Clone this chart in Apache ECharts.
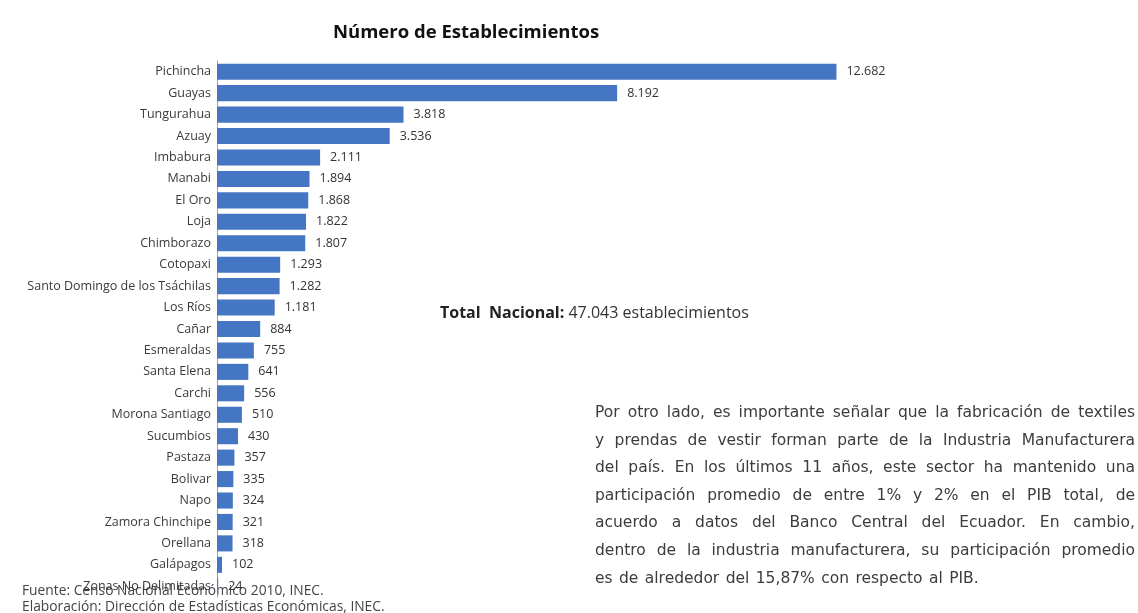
<!DOCTYPE html>
<html>
<head>
<meta charset="utf-8">
<script src="https://cdn.jsdelivr.net/npm/echarts@6/dist/echarts.min.js"></script>
<style>html,body{margin:0;padding:0;background:#fff;}#c{width:1138px;height:613px;}</style>
</head>
<body>
<div id="c"></div>
<script>
const categories = ["Pichincha","Guayas","Tungurahua","Azuay","Imbabura","Manabi","El Oro","Loja","Chimborazo","Cotopaxi","Santo Domingo de los Tsáchilas","Los Ríos","Cañar","Esmeraldas","Santa Elena","Carchi","Morona Santiago","Sucumbios","Pastaza","Bolivar","Napo","Zamora Chinchipe","Orellana","Galápagos","Zonas No Delimitadas"];
const values = [12682,8192,3818,3536,2111,1894,1868,1822,1807,1293,1282,1181,884,755,641,556,510,430,357,335,324,321,318,102,24];
const paragraph = [
  "Por otro lado, es importante señalar que la fabricación de textiles",
  "y prendas de vestir forman parte de la Industria Manufacturera",
  "del país. En los últimos 11 años, este sector ha mantenido una",
  "participación promedio de entre 1% y  2% en el PIB total, de",
  "acuerdo a datos del Banco Central del Ecuador. En cambio,",
  "dentro de la industria manufacturera, su participación promedio",
  "es de alrededor del 15,87% con respecto al PIB."
];
function fmt(v){ return String(v).replace(/\B(?=(\d{3})+(?!\d))/g, '.'); }

const PFONT = '15.5px "DejaVu Sans"';
const ctx = document.createElement('canvas').getContext('2d');
ctx.font = PFONT;
const graphics = [];
const pLeft = 595, pWidth = 540, pTop = 413, pStep = 27.6;
paragraph.forEach((line, i) => {
  const words = line.split(/ +/).filter(w => w.length);
  const widths = words.map(w => ctx.measureText(w).width);
  const total = widths.reduce((a,b)=>a+b,0);
  const last = i === paragraph.length - 1;
  const gap = last ? ctx.measureText(' ').width * 1.3 : (pWidth - total) / (words.length - 1);
  let x = pLeft;
  words.forEach((w, k) => {
    graphics.push({type:'text',x:x,y:pTop + i*pStep,style:{text:w,font:PFONT,fill:'#3c3c3c',verticalAlign:'middle',align:'left'}});
    x += widths[k] + gap;
  });
});
graphics.push({type:'text',x:440,y:313,style:{text:'{b|Total  Nacional:} 47.043 establecimientos',rich:{b:{fontWeight:'bold',fontSize:16,fontFamily:'Open Sans',fill:'#222'}},font:'16px "Open Sans"',fill:'#333',verticalAlign:'middle'}});
graphics.push({type:'text',x:22,y:591,style:{text:'Fuente: Censo Nacional Económico 2010, INEC.',font:'13.8px "Open Sans"',fill:'#444',verticalAlign:'middle'}});
graphics.push({type:'text',x:22,y:607,style:{text:'Elaboración: Dirección de Estadísticas Económicas, INEC.',font:'13.8px "Open Sans"',fill:'#444',verticalAlign:'middle'}});

const chart = echarts.init(document.getElementById('c'));
chart.setOption({
  animation:false,
  title:{text:'Número de Establecimientos',left:328,top:18,textStyle:{fontFamily:'Open Sans',fontWeight:'bold',fontSize:18.5,color:'#111'}},
  grid:{left:217,right:286,top:61,bottom:16},
  xAxis:{type:'value',min:0,max:13000,show:false},
  yAxis:{type:'category',data:categories,inverse:true,
    axisLine:{show:true,lineStyle:{color:'#a0a0a0'}},axisTick:{show:false},
    axisLabel:{margin:6,fontFamily:'Open Sans',fontSize:12.5,color:'#3a3a3a'}},
  series:[{type:'bar',data:values,barCategoryGap:'25%',itemStyle:{color:'#4576c3'},
    label:{show:true,position:'right',distance:10,formatter:p=>fmt(p.value),fontFamily:'Open Sans',fontSize:12.5,color:'#333'}}],
  graphic:graphics
});
</script>
</body>
</html>
